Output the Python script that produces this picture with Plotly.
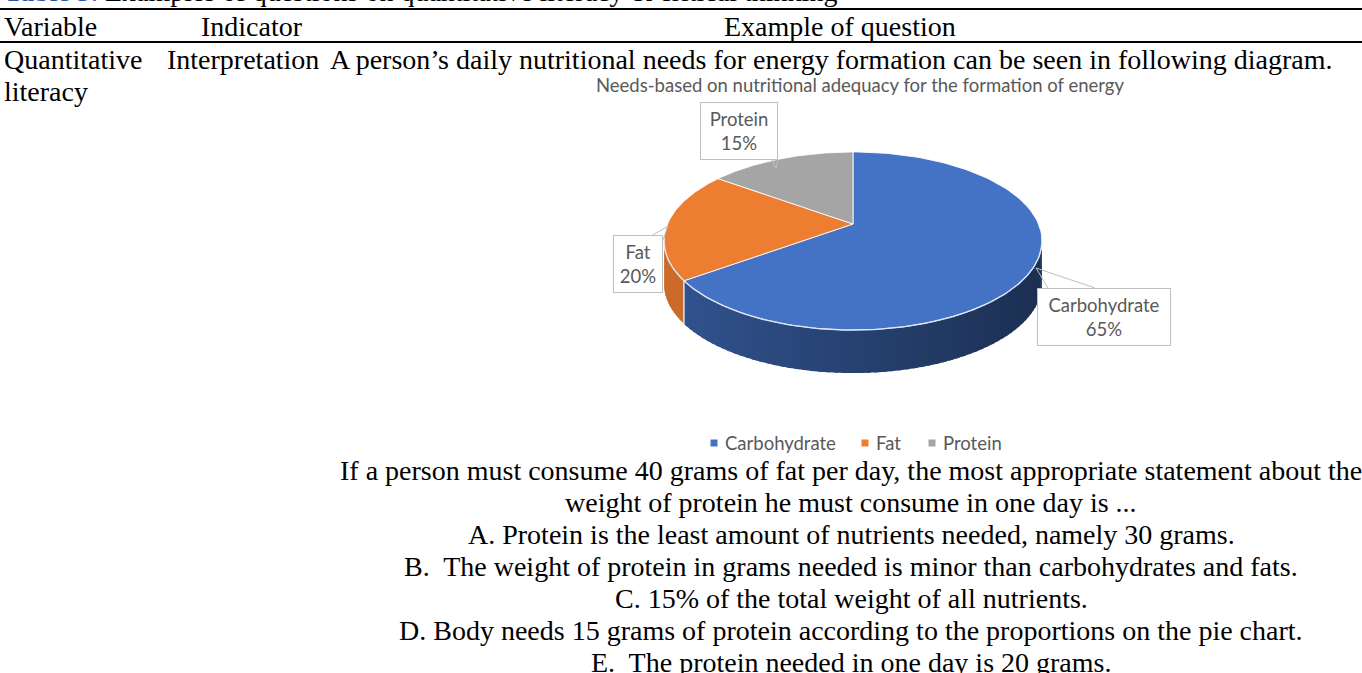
import math
import numpy as np
import plotly.graph_objects as go

# ---------------- data ----------------
categories = ["Carbohydrate", "Fat", "Protein"]
values = [65, 20, 15]
slice_colors = ["#4472C4", "#ED7D31", "#A5A5A5"]
chart_title = "Needs-based on nutritional adequacy for the formation of energy"

caption_label = "Table 3."
caption_rest = " Examples of questions on quantitative literacy & critical thinking"
header_cells = ["Variable", "Indicator", "Example of question"]
variable_lines = ["Quantitative", "literacy"]
indicator_text = "Interpretation"
intro_text = "A person\u2019s daily nutritional needs for energy formation can be seen in following diagram."
question_lines = [
    "If a person must consume 40 grams of fat per day, the most appropriate statement about the",
    "weight of protein he must consume in one day is ...",
    "A. Protein is the least amount of nutrients needed, namely 30 grams.",
    "B.  The weight of protein in grams needed is minor than carbohydrates and fats.",
    "C. 15% of the total weight of all nutrients.",
    "D. Body needs 15 grams of protein according to the proportions on the pie chart.",
    "E.  The protein needed in one day is 20 grams.",
]

# ---------------- layout / style constants ----------------
W, H = 1362, 673
SERIF = "Liberation Serif"
SERIF_SIZE = 28
SANS = "Lato"
GRAY = "#595959"

# 3-D pie projection (perspective ellipse)
CX, CY = 853.0, 224.0
A_R, B_R, Q = 185.5, 85.8, 0.191
DEPTH = 43.0


def proj(phi_deg, depth=0.0):
    p = np.radians(phi_deg)
    u = np.sin(p)
    v = -np.cos(p)
    d = 1 - Q * v
    return CX + A_R * u / d, CY + B_R * v / d + depth


def shade(hex_color, f):
    h = hex_color.lstrip("#")
    r, g, b = (int(h[i:i + 2], 16) for i in (0, 2, 4))
    return "rgb(%d,%d,%d)" % (r * f, g * f, b * f)


fig = go.Figure()

total = float(sum(values))
bounds = []
acc = 0.0
for v in values:
    s = acc / total * 360.0
    acc += v
    e = acc / total * 360.0
    bounds.append((s, e))

vis_lo = math.degrees(math.acos(-Q))
vis_hi = 360.0 - vis_lo
x_left, _ = proj(vis_hi)
x_right, _ = proj(vis_lo)

side_factor = {0: (0.74, 0.42), 1: (0.86, 0.80), 2: (0.8, 0.6)}

# side walls (each strip slightly overlapping the next)
for i, (s, e) in enumerate(bounds):
    lo, hi = max(s, vis_lo), min(e, vis_hi)
    if hi <= lo:
        continue
    n = max(2, int((hi - lo) / 2))
    edges = np.linspace(lo, hi, n + 1)
    step = edges[1] - edges[0]
    fl, fr = side_factor[i]
    for a0, a1 in zip(edges[:-1], edges[1:]):
        a1e = min(a1 + step * 0.6, hi)
        ang = np.linspace(a0, a1e, 6)
        tx, ty = proj(ang)
        bx, by = proj(ang[::-1], DEPTH)
        xm = float(np.mean(proj(np.array([a0, a1]))[0]))
        t = (xm - x_left) / (x_right - x_left)
        col = shade(slice_colors[i], fl + (fr - fl) * t)
        fig.add_trace(go.Scatter(
            x=np.concatenate([tx, bx]), y=np.concatenate([ty, by]),
            fill="toself", fillcolor=col, mode="lines",
            line=dict(color=col, width=0), hoverinfo="skip", showlegend=False))

# boundary lines on the side wall
for s, e in bounds:
    for a in (s, e):
        if vis_lo < a < vis_hi:
            x0, y0 = proj(a)
            x1, y1 = proj(a, DEPTH)
            fig.add_trace(go.Scatter(x=[x0, x1], y=[y0, y1], mode="lines",
                                     line=dict(color="rgba(255,255,255,0.75)", width=1),
                                     hoverinfo="skip", showlegend=False))

# top faces
for i, (s, e) in enumerate(bounds):
    ang = np.linspace(s, e, 120)
    ax_, ay_ = proj(ang)
    xs = np.concatenate([[CX], ax_, [CX]])
    ys = np.concatenate([[CY], ay_, [CY]])
    fig.add_trace(go.Scatter(x=xs, y=ys, fill="toself", fillcolor=slice_colors[i],
                             mode="lines", line=dict(color="rgba(255,255,255,0.85)", width=1),
                             hoverinfo="skip", showlegend=False))

# front rim highlight
ang = np.linspace(vis_lo, vis_hi, 200)
rx, ry = proj(ang)
fig.add_trace(go.Scatter(x=rx, y=ry, mode="lines",
                         line=dict(color="rgba(220,230,245,0.9)", width=1.4),
                         hoverinfo="skip", showlegend=False))

# data labels (callouts)
label_boxes = {  # centre x, centre y, width, height
    "Carbohydrate": (1104, 317, 134, 58),
    "Fat": (638, 264, 50, 58),
    "Protein": (739, 131, 78, 58),
}
pointers = {
    "Carbohydrate": [(1048, 288), (1036, 268), (1095, 288)],
    "Fat": [(653, 235), (668, 226), (663, 240)],
    "Protein": [(772, 160), (776, 168), (778, 160)],
}
for cat, v in zip(categories, values):
    pts = pointers[cat]
    path = "M %f %f L %f %f L %f %f" % (pts[0] + pts[1] + pts[2])
    fig.add_shape(type="path", path=path, xref="x", yref="y",
                  line=dict(color="#BFBFBF", width=1))
    bx, by, bw, bh = label_boxes[cat]
    fig.add_annotation(x=bx, y=by, xref="x", yref="y", showarrow=False,
                       text="%s<br>%d%%" % (cat, v), align="center",
                       width=bw - 4, height=bh - 4, borderpad=1,
                       bordercolor="#BFBFBF", borderwidth=1, bgcolor="white",
                       font=dict(family=SANS, size=18.5, color=GRAY))

# chart title
fig.add_annotation(x=860, y=85, xref="x", yref="y", showarrow=False, text=chart_title,
                   font=dict(family=SANS, size=18.5, color=GRAY))

# legend
legend_x = [714, 865, 932]
for cat, col, lx in zip(categories, slice_colors, legend_x):
    fig.add_trace(go.Scatter(x=[lx], y=[443], mode="markers",
                             marker=dict(symbol="square", size=7, color=col),
                             hoverinfo="skip", showlegend=False))
    fig.add_annotation(x=lx + 9, y=443, xref="x", yref="y", showarrow=False,
                       xanchor="left", text=cat,
                       font=dict(family=SANS, size=18.5, color=GRAY))

# ---------------- table text ----------------
def txt(x, y, s, anchor="left", color="black", yshift=0):
    fig.add_annotation(x=x, y=y, xref="x", yref="y", showarrow=False, xanchor=anchor,
                       yanchor="middle", text=s, yshift=yshift,
                       font=dict(family=SERIF, size=SERIF_SIZE, color=color))

fig.add_annotation(x=2, y=0, xref="x", yref="y", showarrow=False, xanchor="left",
                   yanchor="middle", yshift=9,
                   text="<b><span style='color:#2F52A0'>%s</span></b>%s" % (caption_label, caption_rest),
                   font=dict(family=SERIF, size=SERIF_SIZE, color="black"))

fig.add_shape(type="line", x0=0, x1=W, y0=9, y1=9, xref="x", yref="y",
              line=dict(color="black", width=2))
fig.add_shape(type="line", x0=0, x1=W, y0=42, y1=42, xref="x", yref="y",
              line=dict(color="black", width=2))

txt(2, 26, header_cells[0])
txt(199, 26, header_cells[1])
txt(840, 26, header_cells[2], anchor="center")

txt(2, 59, variable_lines[0])
txt(2, 91, variable_lines[1])
txt(165, 59, indicator_text)
txt(328, 59, intro_text)

q_y = [470, 502, 534, 566, 598, 630, 662]
for s, y in zip(question_lines, q_y):
    txt(851, y, s, anchor="center")

fig.update_layout(
    width=W, height=H, margin=dict(l=0, r=0, t=0, b=0),
    paper_bgcolor="white", plot_bgcolor="white", showlegend=False,
    xaxis=dict(range=[0, W], visible=False, fixedrange=True),
    yaxis=dict(range=[H, 0], visible=False, fixedrange=True),
)

fig.write_html("out.html", config={"displayModeBar": False},
               post_script="document.body.style.margin='0';document.body.style.overflow='hidden';")
